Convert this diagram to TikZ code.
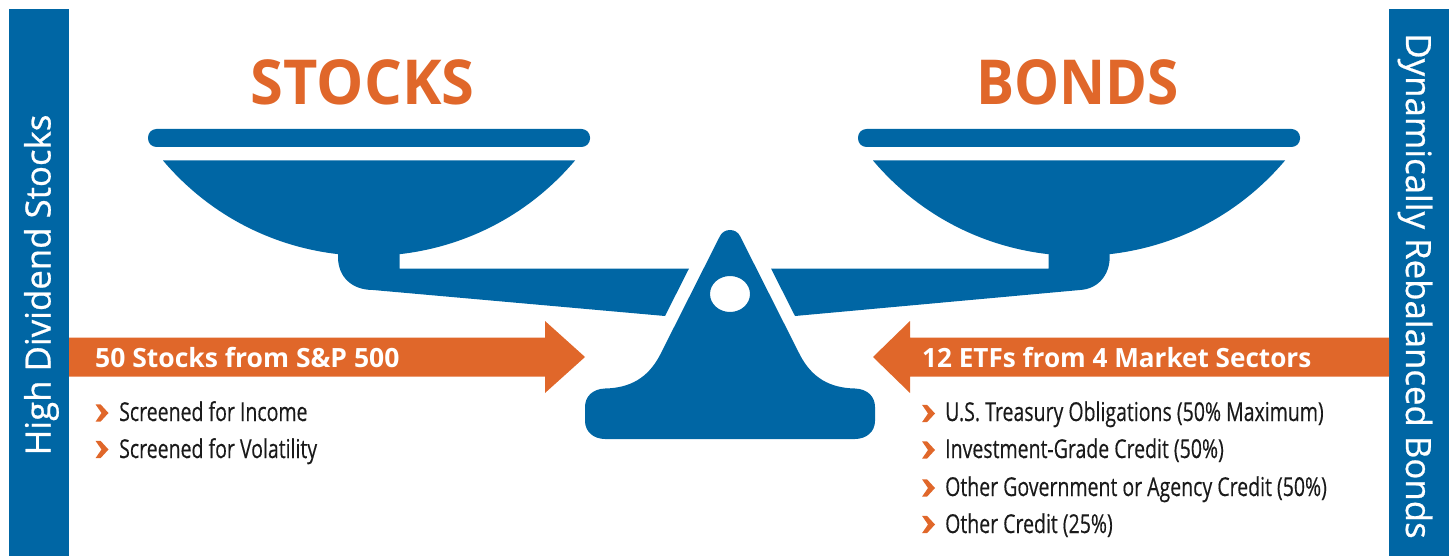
\documentclass[tikz,border=0pt]{standalone}
\usepackage{fontspec}
\setmainfont{Open Sans}
\newfontfamily\headfont[FakeStretch=0.96]{Open Sans}
\newfontfamily\bondfont[FakeStretch=0.915]{Open Sans}
\newfontfamily\arrowfont[FakeStretch=1.0]{Open Sans}
\newfontfamily\arrowfontb[FakeStretch=0.985]{Open Sans}
\newfontfamily\barfont[FakeBold=0.7]{Open Sans}
\newfontfamily\condfont[FakeStretch=0.75,FakeBold=0.3]{Open Sans}
\definecolor{scaleblue}{HTML}{0066A4}
\definecolor{accent}{HTML}{E0672A}
\definecolor{listink}{HTML}{1A1A1A}
\tikzset{
  shapefill/.style={fill=scaleblue,draw=none},
  arrowfill/.style={fill=accent,draw=none},
  headtext/.style={text=accent,font=\headfont\fontsize{62}{62}\selectfont\bfseries,inner sep=0pt,anchor=base},
  bartext/.style={text=white,font=\barfont\fontsize{34.8}{34.8}\selectfont,inner sep=0pt,anchor=base},
  arrowtext/.style={text=white,font=\arrowfont\fontsize{26.5}{26.5}\selectfont\bfseries,inner sep=0pt,anchor=base west},
  listtext/.style={text=listink,font=\condfont\fontsize{26}{26}\selectfont,inner sep=0pt,anchor=base west},
  chevron/.pic={\fill[accent] (-6.5,-8.7) -- (-1.5,-8.7) -- (6.5,0) -- (-1.5,8.7) -- (-6.5,8.7) -- (-0.5,0) -- cycle;}
}
\begin{document}
\begin{tikzpicture}[x=1pt,y=-1pt]
\useasboundingbox (0,0) rectangle (1454,556);
% side bars
\fill[shapefill] (9,9) rectangle (69,556);
\fill[shapefill] (1389,9) rectangle (1449,556);
\node[bartext,rotate=90] (leftbar) at (50.5,285) {High Dividend Stocks};
\node[bartext,rotate=-90] (rightbar) at (1406,286) {Dynamically Rebalanced Bonds};
% headings
\node[headtext] (stocks) at (362.5,105) {STOCKS};
\node[headtext,font=\bondfont\fontsize{62}{62}\selectfont\bfseries] (bonds) at (1077.5,105) {BONDS};
% left pan
\fill[shapefill,rounded corners=8.5pt] (148,129) rectangle (590,147);
\fill[shapefill] (163,160.5) -- (575,160.5) .. controls (467.3,287.7) and (270.7,287.7) .. (163,160.5) -- cycle;
\fill[shapefill] (338,250) -- (338,257) .. controls (338,277) and (352,290) .. (373,290)
  -- (665,316) -- (689,268.5) -- (399.5,268.5) -- (399.5,250) -- cycle;
% right pan
\fill[shapefill,rounded corners=8.5pt] (858,129) rectangle (1300,147);
\fill[shapefill] (873,160.5) -- (1285,160.5) .. controls (1177.3,287.7) and (980.7,287.7) .. (873,160.5) -- cycle;
\fill[shapefill] (1109.7,250) -- (1109.7,257) .. controls (1109.7,275) and (1098,289) .. (1080,290)
  -- (795,316) -- (771,268.5) -- (1048.5,268.5) -- (1048.5,250) -- cycle;
% fulcrum
\fill[shapefill,even odd rule]
  (720,236) .. controls (724,228) and (736,228) .. (740,236)
  -- (800,355) .. controls (812,378) and (830,388) .. (855,388.5)
  .. controls (868,389) and (875,397) .. (875,407)
  -- (875,421) .. controls (875,432) and (866,439) .. (855,439)
  -- (605,439) .. controls (594,439) and (585,432) .. (585,421)
  -- (585,407) .. controls (585,397) and (592,389) .. (605,388.5)
  .. controls (630,388) and (648,378) .. (660,355) -- cycle
  (710,294) .. controls (710,284) and (719,276) .. (730,276)
  .. controls (741,276) and (750,284) .. (750,294)
  .. controls (750,304) and (741,312) .. (730,312)
  .. controls (719,312) and (710,304) .. (710,294) -- cycle;
% arrows
\fill[arrowfill] (69,337.5) -- (545,337.5) -- (545,321) -- (585,357) -- (545,393) -- (545,376.5) -- (69,376.5) -- cycle;
\fill[arrowfill] (1389,337.5) -- (910,337.5) -- (910,321) -- (873,357) -- (910,393) -- (910,376.5) -- (1389,376.5) -- cycle;
\node[arrowtext] (leftarrow) at (95,367) {50 Stocks from S\&P 500};
\node[arrowtext,font=\arrowfontb\fontsize{26.5}{26.5}\selectfont\bfseries] (rightarrow) at (922,367) {12 ETFs from 4 Market Sectors};
% lists
\pic at (102,413) {chevron};
\pic at (102,449.5) {chevron};
\node[listtext] (l1) at (119,421) {Screened for Income};
\node[listtext] (l2) at (119,458) {Screened for Volatility};
\pic at (928.5,413.5) {chevron};
\pic at (928.5,450) {chevron};
\pic at (928.5,488) {chevron};
\pic at (928.5,524.5) {chevron};
\node[listtext] (r1) at (945,421) {U.S. Treasury Obligations (50\% Maximum)};
\node[listtext] (r2) at (945,458) {Investment-Grade Credit (50\%)};
\node[listtext] (r3) at (945,496) {Other Government or Agency Credit (50\%)};
\node[listtext] (r4) at (945,533) {Other Credit (25\%)};
\end{tikzpicture}
\end{document}
